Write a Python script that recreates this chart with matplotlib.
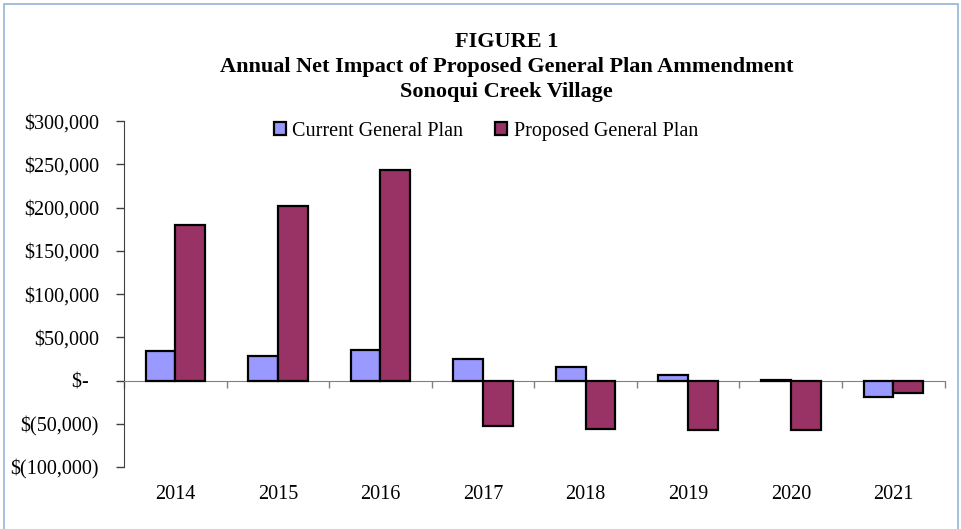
"""Figure 1: annual net impact of proposed general plan ammendment."""
import matplotlib
matplotlib.use('Agg')
import matplotlib.pyplot as plt
import numpy as np
from matplotlib.patches import Rectangle

plt.rcParams['font.family'] = ['Liberation Serif', 'DejaVu Serif']

years = ['2014', '2015', '2016', '2017', '2018', '2019', '2020', '2021']
current_plan = [34000, 28000, 35000, 25000, 16000, 6000, 500, -18500]
proposed_plan = [180000, 202000, 243000, -52000, -56000, -57000, -57000, -14000]
y_ticks = [-100000, -50000, 0, 50000, 100000, 150000, 200000, 250000, 300000]
y_tick_labels = ['$(100,000)', '$(50,000)', '$-  ', '$50,000', '$100,000',
                 '$150,000', '$200,000', '$250,000', '$300,000']

fig = plt.figure(figsize=(9.61, 5.29), dpi=100)
ax = fig.add_axes([0.129, 0.117, 0.854, 0.654])

x = np.arange(len(years))
w = 0.29
ax.bar(x - w / 2, current_plan, w, color='#9999FF', edgecolor='black',
       linewidth=1.6, label='Current General Plan', zorder=3)
ax.bar(x + w / 2, proposed_plan, w, color='#993366', edgecolor='black',
       linewidth=1.6, label='Proposed General Plan', zorder=3)

ax.set_xlim(-0.5, len(years) - 0.5)
ax.set_ylim(-100000, 300000)
ax.set_yticks(y_ticks)
ax.set_yticklabels(y_tick_labels, fontsize=14.5)
ax.tick_params(axis='y', direction='out', length=6, width=1, color='#404040', pad=12)

# category axis crosses at zero, ticks between categories
ax.spines['bottom'].set_position(('data', 0))
ax.spines['bottom'].set_color('#808080')
ax.spines['left'].set_color('#404040')
ax.spines['top'].set_visible(False)
ax.spines['right'].set_visible(False)
ax.set_xticks(np.arange(len(years) + 1) - 0.5)
ax.set_xticklabels([])
ax.tick_params(axis='x', direction='out', length=5, width=1, color='#808080')

# year labels sit at the bottom of the plot area
sec = ax.secondary_xaxis(0)
sec.set_xticks(x)
sec.set_xticklabels(years, fontsize=14.5)
sec.tick_params(length=0, pad=13)
sec.spines['bottom'].set_visible(False)

ax.legend(loc='center', bbox_to_anchor=(0.441, 0.971), ncol=2, frameon=False,
          fontsize=14.5, handlelength=0.6, handleheight=0.6, handletextpad=0.3,
          columnspacing=1.6, borderpad=0, borderaxespad=0)

fig.text(0.527, 0.873, 'FIGURE 1\nAnnual Net Impact of Proposed General Plan Ammendment\nSonoqui Creek Village',
         ha='center', va='center', fontsize=16, fontweight='bold', linespacing=1.32)

# light border round the chart
fig.patches.append(Rectangle((0.004, -0.02), 0.993, 1.012, transform=fig.transFigure,
                             fill=False, edgecolor='#95B3D7', linewidth=1.2))

plt.savefig('out.png', dpi=100)
plt.close()
